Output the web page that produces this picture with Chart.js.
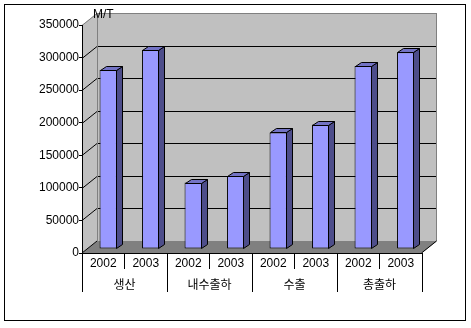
<!DOCTYPE html>
<html>
<head>
<meta charset="utf-8">
<script src="https://cdn.jsdelivr.net/npm/chart.js@4.4.1/dist/chart.umd.min.js"></script>
<style>
  html, body { margin: 0; padding: 0; background: #fff; }
  canvas { display: block; }
</style>
</head>
<body>
<canvas id="grafico" width="471" height="328"></canvas>
<script>
const anos = ['2002', '2003', '2002', '2003', '2002', '2003', '2002', '2003'];
const grupos = ['생산', '내수출하', '수출', '총출하'];
const valores = [275000, 306000, 102000, 112000, 179000, 191000, 281000, 302000];
const unidade = 'M/T';
const yMax = 350000;
const yPasso = 50000;

const FONTE = "'Liberation Sans', 'Noto Sans CJK KR', sans-serif";
// profundidade da parede do fundo, deslocamento das barras e espessura delas
const PX = 15, PY = -12;
const BX = 5, BY = -4;
const LX = 6, LY = -4;

const paredes3d = {
  id: 'paredes3d',
  beforeDraw(chart) {
    const { ctx, chartArea: a, scales } = chart;
    const y = scales.y;
    ctx.save();
    ctx.fillStyle = '#fff';
    ctx.fillRect(0, 0, chart.width, chart.height);

    // parede lateral e do fundo
    ctx.fillStyle = '#c0c0c0';
    ctx.beginPath();
    ctx.moveTo(a.left, a.top);
    ctx.lineTo(a.left + PX, a.top + PY);
    ctx.lineTo(a.left + PX, a.bottom + PY);
    ctx.lineTo(a.left, a.bottom);
    ctx.closePath();
    ctx.fill();
    ctx.fillRect(a.left + PX, a.top + PY, a.right - a.left, a.bottom - a.top);

    // piso
    ctx.fillStyle = '#808080';
    ctx.beginPath();
    ctx.moveTo(a.left, a.bottom);
    ctx.lineTo(a.right, a.bottom);
    ctx.lineTo(a.right + PX, a.bottom + PY);
    ctx.lineTo(a.left + PX, a.bottom + PY);
    ctx.closePath();
    ctx.fill();

    ctx.lineWidth = 1;
    y.ticks.forEach(t => {
      if (t.value === 0) return;
      const py = Math.round(y.getPixelForValue(t.value)) + 0.5;
      ctx.strokeStyle = t.value === yMax ? '#808080' : '#000';
      ctx.beginPath();
      ctx.moveTo(a.left, py);
      ctx.lineTo(a.left + PX, py + PY);
      ctx.lineTo(a.right + PX, py + PY);
      ctx.stroke();
    });

    // bordas cinza da parede
    const xl = a.left + PX + 0.5, xr = a.right + PX - 0.5;
    ctx.strokeStyle = '#808080';
    ctx.beginPath();
    ctx.moveTo(xl, a.bottom + PY);
    ctx.lineTo(xl, a.top + PY + 0.5);
    ctx.lineTo(xr, a.top + PY + 0.5);
    ctx.lineTo(xr, a.bottom + PY);
    ctx.stroke();

    // aresta do piso
    ctx.strokeStyle = '#000';
    ctx.beginPath();
    ctx.moveTo(a.right - 0.5, a.bottom);
    ctx.lineTo(a.right + PX - 0.5, a.bottom + PY);
    ctx.moveTo(a.left, a.bottom);
    ctx.lineTo(a.left + PX, a.bottom + PY);
    ctx.stroke();
    ctx.restore();
  },
  beforeDatasetsDraw(chart) {
    chart.ctx.save();
    chart.ctx.translate(BX, BY);
  },
  afterDatasetsDraw(chart) {
    const ctx = chart.ctx;
    chart.getDatasetMeta(0).data.forEach(bar => {
      const p = bar.getProps(['x', 'y', 'base', 'width'], true);
      const l = Math.round(p.x - p.width / 2) + 0.5;
      const r = Math.round(p.x + p.width / 2) - 0.5;
      const t = Math.round(p.y) + 0.5;
      const b = Math.round(p.base) - 0.5;
      ctx.lineWidth = 1;
      ctx.strokeStyle = '#000';
      // lado
      ctx.fillStyle = '#4d4d8a';
      ctx.beginPath();
      ctx.moveTo(r, t);
      ctx.lineTo(r + LX, t + LY);
      ctx.lineTo(r + LX, b + LY);
      ctx.lineTo(r, b);
      ctx.closePath();
      ctx.fill();
      ctx.stroke();
      // topo
      ctx.fillStyle = '#7373c4';
      ctx.beginPath();
      ctx.moveTo(l, t);
      ctx.lineTo(l + LX, t + LY);
      ctx.lineTo(r + LX, t + LY);
      ctx.lineTo(r, t);
      ctx.closePath();
      ctx.fill();
      ctx.stroke();
    });
    ctx.restore();
  },
  afterDraw(chart) {
    const ctx = chart.ctx;
    ctx.save();
    ctx.fillStyle = '#000';
    ctx.font = '12px ' + FONTE;
    ctx.textBaseline = 'middle';
    ctx.fillText(unidade, 93, 15);
    ctx.strokeStyle = '#000';
    ctx.lineWidth = 1;
    ctx.strokeRect(4.5, 4.5, 461, 316);
    ctx.restore();
  }
};

Chart.defaults.color = '#000';
Chart.defaults.font.family = FONTE;
Chart.defaults.font.size = 12;

const grafico = new Chart(document.getElementById('grafico'), {
  type: 'bar',
  data: {
    labels: anos,
    datasets: [{
      data: valores,
      backgroundColor: '#9999ff',
      borderColor: '#000',
      borderWidth: 1,
      borderSkipped: false,
      barPercentage: 0.41,
      categoryPercentage: 1,
      clip: false
    }]
  },
  options: {
    responsive: false,
    animation: false,
    devicePixelRatio: 1,
    layout: { padding: { left: 0, top: 25, right: 49, bottom: 36 } },
    plugins: {
      legend: { display: false },
      tooltip: { enabled: false }
    },
    scales: {
      y: {
        min: 0,
        max: yMax,
        afterFit: (s) => { s.width = 82; },
        ticks: { stepSize: yPasso, padding: 0, callback: (v) => String(v) },
        grid: { drawOnChartArea: false, drawTicks: true, tickLength: 3, color: '#000' },
        border: { display: true, color: '#000' }
      },
      x: {
        weight: 0,
        offset: true,
        afterFit: (s) => { s.height = 16; },
        ticks: { padding: -13, maxRotation: 0, autoSkip: false },
        grid: { offset: true, drawOnChartArea: false, drawTicks: true, tickLength: 16, color: '#000' },
        border: { display: true, color: '#000' }
      },
      x2: {
        type: 'category',
        position: 'bottom',
        labels: grupos,
        weight: 1,
        offset: true,
        afterFit: (s) => { s.height = 23; },
        ticks: { padding: -14, maxRotation: 0, autoSkip: false },
        grid: { offset: true, drawOnChartArea: false, drawTicks: true, tickLength: 23, color: '#000' },
        border: { display: false }
      }
    }
  },
  plugins: [paredes3d]
});
</script>
</body>
</html>
